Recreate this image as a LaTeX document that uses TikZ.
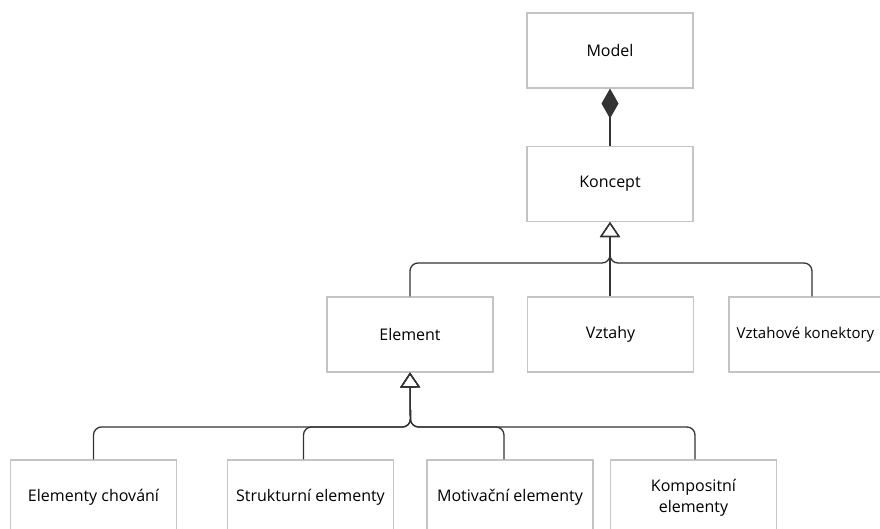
\documentclass[tikz,border=0pt]{standalone}
\usepackage{fontspec}
\setmainfont{Open Sans}
\usetikzlibrary{arrows.meta,positioning,calc}
\definecolor{boxgray}{HTML}{C4C4C4}
\definecolor{linegray}{HTML}{333333}
\tikzset{
  umlbox/.style={draw=boxgray, line width=1.1pt, fill=white, minimum width=166pt, minimum height=75pt,
    inner sep=0pt, align=center, font=\fontsize{16}{21}\selectfont, text=black},
  conn/.style={draw=linegray, line width=1.3pt},
  gen/.style={conn, rounded corners=8pt, -{Triangle[open, length=15pt, width=20pt, line width=1.2pt]}},
}
\begin{document}
\begin{tikzpicture}[x=1pt, y=-1pt]
\useasboundingbox (0,0) rectangle (880,529);
\clip (0,0) rectangle (880,529);
\fill[white] (0,0) rectangle (880,529);
% boxes
\node[umlbox] (model) at (610,50.5) {Model};
\node[umlbox] (koncept) at (610,184) {Koncept};
\node[umlbox] (element) at (410,334.5) {Element};
\node[umlbox] (vztahy) at (610.5,334.5) {Vztahy};
\node[umlbox, font=\fontsize{15}{21}\selectfont] (vkon) at (812,334.5) {\hspace*{-13pt}Vztahové konektory};
\node[umlbox] (chov) at (93.5,497.5) {Elementy chování};
\node[umlbox] (strukt) at (310.5,497.5) {Strukturní elementy};
\node[umlbox] (motiv) at (510,497.5) {Motivační elementy};
\node[umlbox] (kompo) at (693.5,497.5) {Kompositní\\elementy};
% bus coordinates
\coordinate (kbus) at (610,263);
\coordinate (ebus) at (410.5,427);
% composition
\draw[conn, {Diamond[length=30pt, width=17pt]}-] (model.south) -- (koncept.north);
% generalisations to Koncept
\draw[gen] (element.north) |- (kbus) -- (koncept.south);
\draw[gen] (vztahy.north -| koncept.south) -- (koncept.south);
\draw[gen] (vkon.north) |- (kbus) -- (koncept.south);
% generalisations to Element
\draw[gen] (chov.north) |- (ebus) -- (element.south);
\draw[gen] ([xshift=-7pt]strukt.north) |- (ebus) -- (element.south);
\draw[gen] ([xshift=-6pt]motiv.north) |- (ebus) -- (element.south);
\draw[gen] ([xshift=1.5pt]kompo.north) |- (ebus) -- (element.south);
\end{tikzpicture}
\end{document}
